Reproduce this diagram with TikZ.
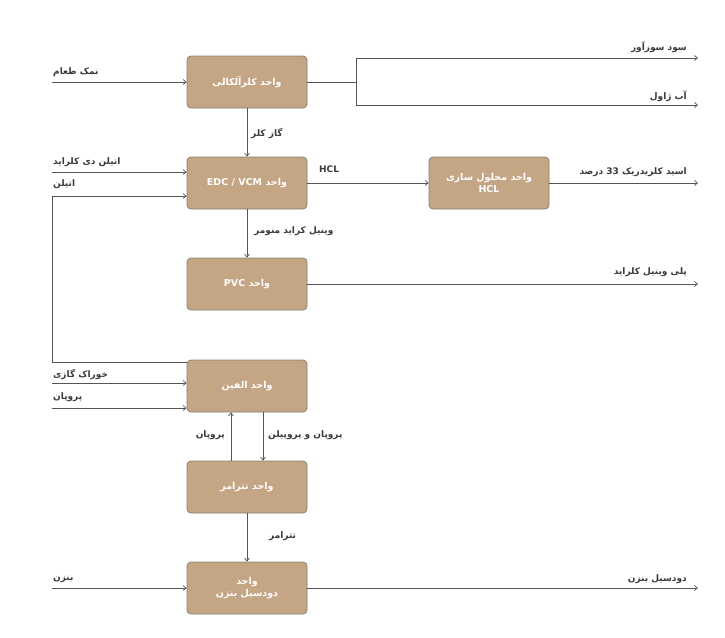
\documentclass[tikz,border=0pt]{standalone}
\usepackage{fontspec}
\TeXXeTstate=1
\newfontfamily\arabicfont[Script=Arabic]{DejaVu Sans}
\usetikzlibrary{arrows.meta}
\definecolor{boxfill}{HTML}{C4A584}
\definecolor{boxline}{HTML}{8A8070}
\definecolor{ln}{HTML}{555555}
\definecolor{lab}{HTML}{3A3A3A}
\begin{document}
\begin{tikzpicture}[x=1pt,y=-1pt,
  unit/.style={draw=boxline,line width=0.8pt,fill=boxfill,minimum width=120pt,minimum height=52pt,rounded corners=4pt,text=white,font=\arabicfont\bfseries\fontsize{9.5}{12}\selectfont,align=center},
  lbl/.style={text=lab,font=\arabicfont\bfseries\fontsize{9}{11}\selectfont,inner sep=1pt},
  flow/.style={draw=ln,line width=0.7pt},
  arr/.style={flow,-{Straight Barb[length=3pt,width=5pt]}}]
\useasboundingbox (0,0) rectangle (725,637);
\node[unit] (b1) at (247,82) {\beginR واحد کلرآلکالی\endR};
\node[unit] (b2) at (247,183) {\beginR واحد \beginL EDC / VCM\endL\endR};
\node[unit] (b3) at (489,183) {\beginR واحد محلول سازی\endR\\HCL};
\node[unit] (b4) at (247,284) {\beginR واحد \beginL PVC\endL\endR};
\node[unit] (b5) at (247,386) {\beginR واحد الفین\endR};
\node[unit] (b6) at (247,487) {\beginR واحد تترامر\endR};
\node[unit] (b7) at (247,588) {\beginR واحد\endR\\\beginR دودسیل بنزن\endR};
% coordinates
\coordinate (s1) at (52,82); \coordinate (sp) at (356,82);
\coordinate (o1) at (698,58); \coordinate (o2) at (698,105);
\coordinate (s2a) at (52,172); \coordinate (s2b) at (52,196);
\coordinate (o3) at (698,183); \coordinate (o4) at (698,284);
\coordinate (lp) at (52,362);
\coordinate (s5a) at (52,383); \coordinate (s5b) at (52,408);
\coordinate (s7) at (52,588); \coordinate (o7) at (698,588);
% flows
\draw[arr] (s1) -- (b1.west);
\draw[flow] (b1.east) -- (sp);
\draw[arr] (sp) |- (o1);
\draw[arr] (sp) |- (o2);
\draw[arr] (b1) -- (b2);
\draw[arr] (s2a) -- (s2a -| b2.west);
\draw[arr] (b5.west |- lp) -- (lp) -- (s2b) -- (s2b -| b2.west);
\draw[arr] (b2) -- (b3);
\draw[arr] (b3) -- (o3);
\draw[arr] (b2) -- (b4);
\draw[arr] (b4) -- (o4);
\draw[arr] (s5a) -- (s5a -| b5.west);
\draw[arr] (s5b) -- (s5b -| b5.west);
\draw[arr] (231,0 |- b6.north) -- (231,0 |- b5.south);
\draw[arr] (263,0 |- b5.south) -- (263,0 |- b6.north);
\draw[arr] (b6) -- (b7);
\draw[arr] (s7) -- (b7.west);
\draw[arr] (b7) -- (o7);
% labels
\node[lbl,anchor=west] (l1) at (52,72) {\beginR نمک طعام\endR};
\node[lbl,anchor=east] (l2) at (688,47) {\beginR سود سوزآور\endR};
\node[lbl,anchor=east] (l3) at (688,96) {\beginR آب ژاول\endR};
\node[lbl,anchor=west] (l4) at (250,134) {\beginR گاز کلر\endR};
\node[lbl,anchor=west] (l5) at (52,162) {\beginR اتیلن دی کلراید\endR};
\node[lbl,anchor=west] (l6) at (52,184) {\beginR اتیلن\endR};
\node[lbl,anchor=west] (l7) at (318,169) {HCL};
\node[lbl,anchor=east] (l8) at (688,172) {\beginR اسید کلریدریک 33 درصد\endR};
\node[lbl,anchor=west] (l9) at (253,231) {\beginR وینیل کراید منومر\endR};
\node[lbl,anchor=east] (l10) at (688,272) {\beginR پلی وینیل کلراید\endR};
\node[lbl,anchor=west] (l11) at (52,374) {\beginR خوراک گازی\endR};
\node[lbl,anchor=west] (l12) at (52,397) {\beginR پروپان\endR};
\node[lbl,anchor=east] (l13) at (226,435) {\beginR پروپان\endR};
\node[lbl,anchor=west] (l14) at (267,435) {\beginR پروپان و پروپیلن\endR};
\node[lbl,anchor=west] (l15) at (268,536) {\beginR تترامر\endR};
\node[lbl,anchor=west] (l16) at (52,579) {\beginR بنزن\endR};
\node[lbl,anchor=east] (l17) at (688,579) {\beginR دودسیل بنزن\endR};
\end{tikzpicture}
\end{document}
